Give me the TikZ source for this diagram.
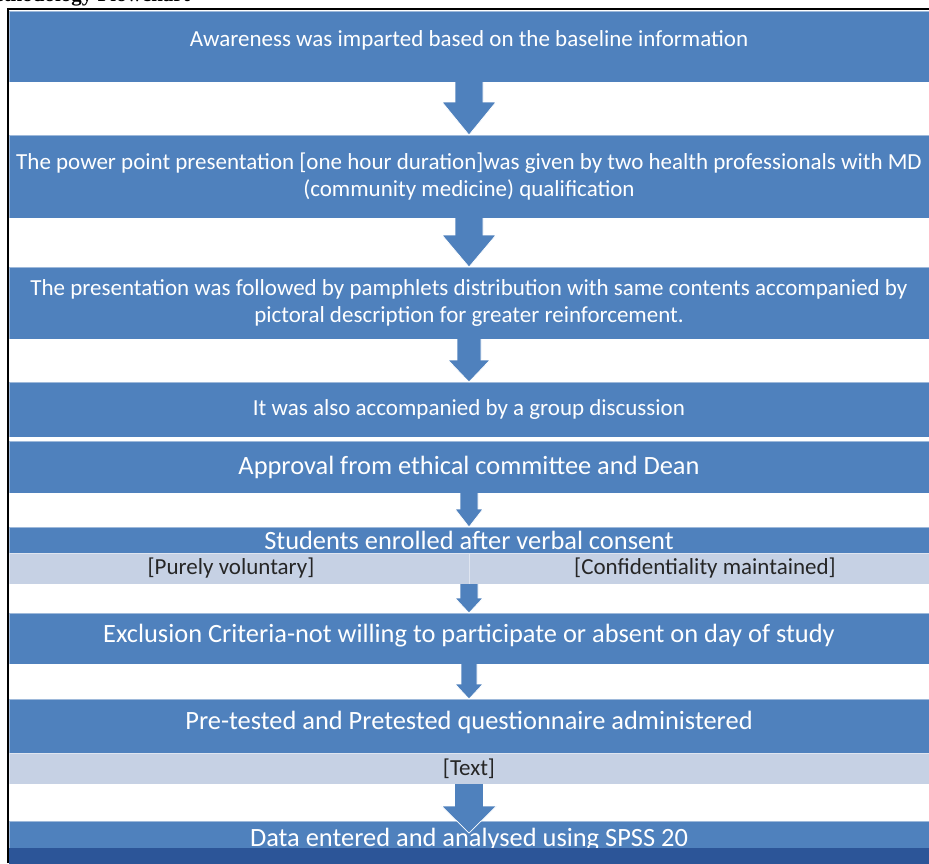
\documentclass[tikz,border=0pt]{standalone}
\usepackage{fontspec}
\setmainfont{Carlito}
\newfontfamily\headfont{Liberation Serif}
\usepackage{tikz}
\usetikzlibrary{positioning}
\usetikzlibrary{calc}

\definecolor{boxblue}{HTML}{4F81BD}
\definecolor{noteblue}{HTML}{C6D1E4}
\definecolor{notetext}{HTML}{262626}
\definecolor{darkblue}{HTML}{2C5598}

% block arrow: from, tip, half shaft, half head, head length
\newcommand{\blockarrow}[5]{%
  \path[blk] ($(#1)+(-#3,0)$) -- ($(#2)+(-#3,-#5)$) -- ($(#2)+(-#4,-#5)$) -- (#2)
    -- ($(#2)+(#4,-#5)$) -- ($(#2)+(#3,-#5)$) -- ($(#1)+(#3,0)$);
}

\begin{document}
\begin{tikzpicture}[x=1pt, y=-1pt,
    box/.style = {rectangle, fill=boxblue, draw=white, draw opacity=0.45, line width=0.7pt,
                  minimum width=920pt, inner sep=0pt, outer sep=0pt, text=white, align=center,
                  font=\fontsize{23}{27}\selectfont},
    bigbox/.style = {box, font=\fontsize{26.4}{30}\selectfont},
    note/.style = {rectangle, fill=noteblue, draw=white, draw opacity=0.45, line width=0.7pt,
                   minimum height=31pt, inner sep=0pt, outer sep=0pt, text=notetext,
                   font=\fontsize{23}{26}\selectfont},
    blk/.style = {fill=boxblue, draw=white, line width=0.7pt}]
    \useasboundingbox (0,0) rectangle (929,863);
    \fill[white] (-5,-5) rectangle (940,870);

    % heading cut by the page
    \node[anchor=base east, inner sep=0pt, font=\headfont\bfseries\fontsize{21}{21}\selectfont] (title) at (190,1.5) {Methodology Flowchart};
    \draw[line width=1.6pt] (8,863) -- (8,9) -- (929,9);

    \node[box, minimum height=71pt, text height=16pt, text depth=17pt] (b1) at (469,46.5) {Awareness was imparted based on the baseline information};
    \node[box, minimum height=83pt] (b2) [below=53pt of b1] {The power point presentation [one hour duration]was given by two health professionals with MD\\(community medicine) qualification};
    \node[box, minimum height=72pt] (b3) [below=49pt of b2] {The presentation was followed by pamphlets distribution with same contents accompanied by\\pictoral description for greater reinforcement.};
    \node[box, minimum height=55pt] (b4) [below=43pt of b3] {It was also accompanied by a group discussion};
    \node[bigbox, minimum height=52pt] (b5) [below=4pt of b4] {Approval from ethical committee and Dean};
    \node[bigbox, minimum height=26pt, text height=19pt, text depth=0pt] (b6) [below=34pt of b5] {Students enrolled after verbal consent};
    \node[note, minimum width=460pt] (l6a) [below left=0pt of b6.south] {\hspace*{-16pt}[Purely voluntary]};
    \node[note, minimum width=460pt] (l6b) [below right=0pt of b6.south] {\hspace*{12pt}[Confidentiality maintained]};
    \node[bigbox, minimum height=51pt, text height=18pt, text depth=10pt] (b7) [below=29pt of l6a.south east] {Exclusion Criteria-not willing to participate or absent on day of study};
    \node[bigbox, minimum height=54pt, text height=18pt, text depth=12pt] (b8) [below=35pt of b7] {Pre-tested and Pretested questionnaire administered};
    \node[note, minimum width=920pt] (l8) [below=0pt of b8] {[Text]};
    \node[box, minimum height=27pt] (b9) [below=37pt of l8] {};
    \coordinate (t7) at ($(b9.north)+(0,12)$);

    \blockarrow{b1.south}{b2.north}{14}{27}{33}
    \blockarrow{b2.south}{b3.north}{14}{27}{32}
    \blockarrow{b3.south}{b4.north}{12}{21}{22}
    \blockarrow{b5.south}{b6.north}{9}{14}{18}
    \blockarrow{l6a.south east}{b7.north}{9}{14}{15}
    \blockarrow{b7.south}{b8.north}{8}{14}{15}
    \blockarrow{l8.south}{t7}{14.5}{27.5}{27}

    \node[anchor=base, inner sep=0pt, text=white, font=\fontsize{26.4}{30}\selectfont] (t9) at ($(b9.south)+(0,-2)$) {Data entered and analysed using SPSS 20};
    \node[rectangle, fill=darkblue, minimum width=920pt, minimum height=18pt, inner sep=0pt, outer sep=0pt] (b10) [below=0pt of b9] {};
\end{tikzpicture}
\end{document}
